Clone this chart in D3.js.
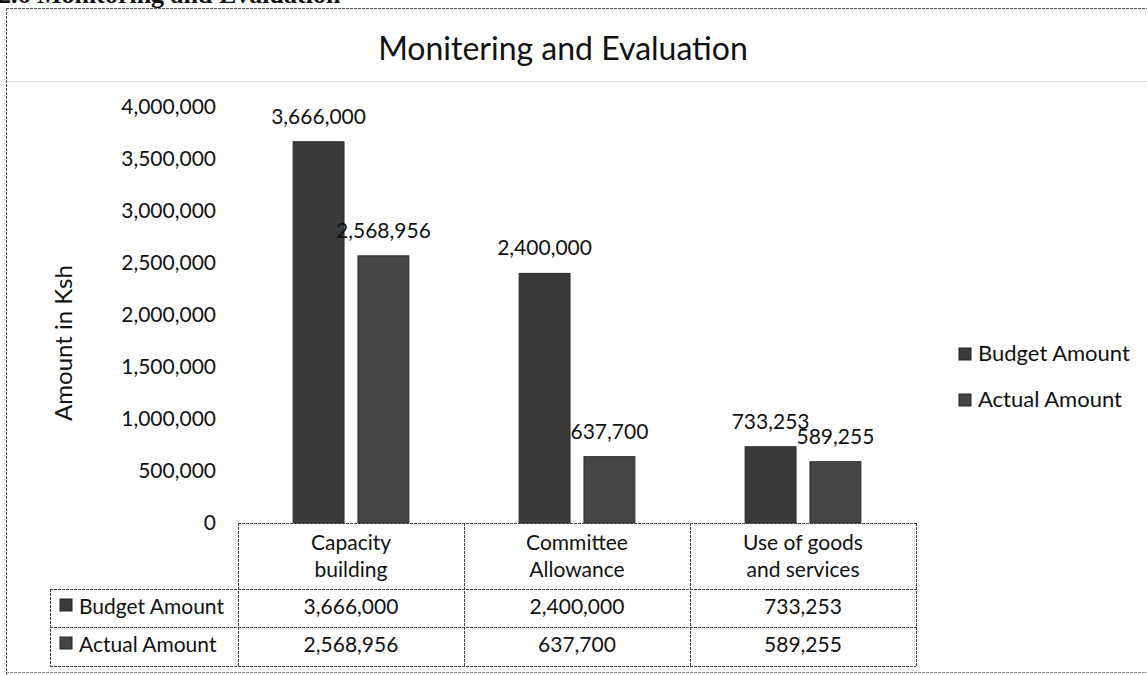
<!DOCTYPE html>
<html>
<head>
<meta charset="utf-8">
<script src="https://cdn.jsdelivr.net/npm/d3@7"></script>
<style>
  body { margin: 0; background: #fff; }
  text { font-family: Lato, "Open Sans", sans-serif; fill: #111; }
</style>
</head>
<body>
<div id="chart"></div>
<script>
// data
const categories = ["Capacity building", "Committee Allowance", "Use of goods and services"];
const categoryLines = [["Capacity", "building"], ["Committee", "Allowance"], ["Use of goods", "and services"]];
const seriesNames = ["Budget Amount", "Actual Amount"];
const budgetAmount = [3666000, 2400000, 733253];
const actualAmount = [2568956, 637700, 589255];
const yTicks = [0, 500000, 1000000, 1500000, 2000000, 2500000, 3000000, 3500000, 4000000];

const seriesValues = [budgetAmount, actualAmount];
const colors = ["#3a3a3a", "#454545"];
const fmt = d3.format(",");

const width = 1147, height = 675;

const svg = d3.select("#chart")
  .append("svg")
    .attr("width", width)
    .attr("height", height);

// page heading cut off at the top
svg.append("text")
  .attr("x", -2)
  .attr("y", 3)
  .style("font-family", "'Liberation Serif', serif")
  .style("font-weight", "bold")
  .style("font-size", "26px")
  .text("2.6 Monitoring and Evaluation");

// chart frame
svg.append("line").attr("x1", 6).attr("x2", width).attr("y1", 8.5).attr("y2", 8.5)
  .style("stroke", "#555").style("stroke-dasharray", "3,1");
svg.append("line").attr("x1", 6.5).attr("x2", 6.5).attr("y1", 8).attr("y2", height)
  .style("stroke", "#555").style("stroke-dasharray", "3,1");
svg.append("line").attr("x1", 6).attr("x2", width).attr("y1", 672.5).attr("y2", 672.5)
  .style("stroke", "#888").style("stroke-dasharray", "3,1");

// title and the faint rule under it
svg.append("text")
  .attr("x", 563)
  .attr("y", 60)
  .attr("text-anchor", "middle")
  .style("font-size", "32px")
  .text("Monitering and Evaluation");
svg.append("line").attr("x1", 7).attr("x2", width).attr("y1", 81.5).attr("y2", 81.5)
  .style("stroke", "#d4d4d4");

// scales
const x = d3.scaleBand()
  .domain(categories)
  .range([238, 916]);

const xs = d3.scaleBand()
  .domain(seriesNames)
  .range([0, x.bandwidth()])
  .paddingInner(0.215)
  .paddingOuter(0.85);

const y = d3.scaleLinear()
  .domain([0, 4000000])
  .range([523, 107]);

// y axis, labels only
const yAxis = svg.append("g")
  .attr("transform", "translate(238,0)")
  .call(d3.axisLeft(y).tickValues(yTicks).tickFormat(fmt).tickSize(0).tickPadding(22));
yAxis.select(".domain").remove();
yAxis.selectAll("text")
  .style("font-family", "Lato, sans-serif")
  .style("font-size", "21px")
  .style("fill", "#111");

svg.append("text")
  .attr("transform", "translate(72,343) rotate(-90)")
  .attr("text-anchor", "middle")
  .style("font-size", "24px")
  .text("Amount in Ksh");

// bars
seriesNames.forEach(function(name, i) {
  const g = svg.append("g");
  g.selectAll("rect")
    .data(seriesValues[i])
    .join("rect")
      .attr("x", (d, j) => x(categories[j]) + xs(name))
      .attr("y", d => y(d))
      .attr("width", xs.bandwidth())
      .attr("height", d => y(0) - y(d))
      .style("fill", colors[i])
      .style("stroke", "#2a2a2a");

  g.selectAll("text")
    .data(seriesValues[i])
    .join("text")
      .attr("x", (d, j) => x(categories[j]) + xs(name) + xs.bandwidth() / 2)
      .attr("y", d => y(d) - 18)
      .attr("text-anchor", "middle")
      .style("font-size", "21px")
      .text(d => fmt(d));
});

// data table under the plot
const tableStroke = function(sel) {
  sel.style("stroke", "#444").style("stroke-dasharray", "3,1").style("fill", "none");
};
const rowY = [523, 589, 627, 666];
const labelLeft = 50;

svg.append("line").attr("x1", 238).attr("x2", 916).attr("y1", rowY[0] + 0.5).attr("y2", rowY[0] + 0.5).call(tableStroke);
rowY.slice(1).forEach(function(ry) {
  svg.append("line").attr("x1", labelLeft).attr("x2", 916).attr("y1", ry + 0.5).attr("y2", ry + 0.5).call(tableStroke);
});
svg.append("line").attr("x1", labelLeft + 0.5).attr("x2", labelLeft + 0.5).attr("y1", rowY[1]).attr("y2", rowY[3]).call(tableStroke);
categories.forEach(function(c) {
  svg.append("line").attr("x1", x(c) + 0.5).attr("x2", x(c) + 0.5).attr("y1", rowY[0]).attr("y2", rowY[3]).call(tableStroke);
});
svg.append("line").attr("x1", 916.5).attr("x2", 916.5).attr("y1", rowY[0]).attr("y2", rowY[3]).call(tableStroke);

// category header cells
svg.append("g").selectAll("text")
  .data(categories)
  .join("text")
    .attr("text-anchor", "middle")
    .attr("x", d => x(d) + x.bandwidth() / 2)
    .style("font-size", "21px")
    .each(function(d, j) {
      d3.select(this).selectAll("tspan")
        .data(categoryLines[j])
        .join("tspan")
          .attr("x", x(d) + x.bandwidth() / 2)
          .attr("y", (t, k) => 550 + k * 27)
          .text(t => t);
    });

// value rows
const rowBase = [614, 652];
seriesNames.forEach(function(name, i) {
  svg.append("rect")
    .attr("x", 60).attr("y", rowBase[i] - 15)
    .attr("width", 12).attr("height", 12)
    .style("fill", colors[i]).style("stroke", "#222");
  svg.append("text")
    .attr("x", 79).attr("y", rowBase[i])
    .style("font-size", "21px")
    .text(name);
  svg.append("g").selectAll("text")
    .data(seriesValues[i])
    .join("text")
      .attr("x", (d, j) => x(categories[j]) + x.bandwidth() / 2)
      .attr("y", rowBase[i])
      .attr("text-anchor", "middle")
      .style("font-size", "21px")
      .text(d => fmt(d));
});

// legend
const legend = svg.append("g").selectAll("g")
  .data(seriesNames)
  .join("g")
    .attr("transform", (d, i) => `translate(959,${361 + i * 46})`);
legend.append("rect")
  .attr("x", 0).attr("y", -13)
  .attr("width", 12).attr("height", 12)
  .style("fill", (d, i) => colors[i]).style("stroke", "#222");
legend.append("text")
  .attr("x", 19)
  .style("font-size", "22px")
  .text(d => d);
</script>
</body>
</html>
